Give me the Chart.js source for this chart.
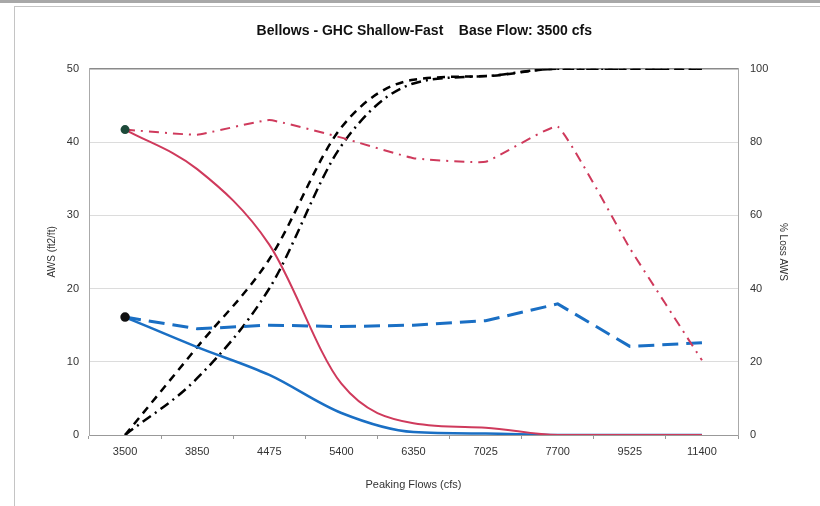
<!DOCTYPE html>
<html>
<head>
<meta charset="utf-8">
<script src="https://cdn.jsdelivr.net/npm/chart.js@4"></script>
<style>
  html, body { margin: 0; padding: 0; background: #fff; overflow: hidden; }
  #topbar { position: absolute; left: 0; top: 0; width: 820px; height: 3px; background: #a8a8a8; }
  #frame { position: absolute; left: 14px; top: 6px; width: 820px; height: 520px; border: 1px solid #c4c4c4; }
  #wrap { position: absolute; left: 0; top: 0; width: 820px; height: 506px; }
</style>
</head>
<body>
<div id="topbar"></div>
<div id="frame"></div>
<div id="wrap"><canvas id="chart" width="820" height="506"></canvas></div>
<script>
// categorias (vazões de pico)
const flows = ['3500', '3850', '4475', '5400', '6350', '7025', '7700', '9525', '11400'];

// AWS (ft2/ft) - eixo esquerdo
const awsRed = [41.7, 36.3, 26.0, 7.0, 1.6, 1.0, 0, 0, 0];
const awsBlue = [16.1, 12.0, 8.2, 3.0, 0.4, 0.2, 0, 0, 0];
const baseRed = [41.7, 41.0, 43.0, 40.6, 37.8, 37.3, 42.1, 25.5, 10.2];
const baseBlue = [16.1, 14.5, 15.0, 14.8, 15.0, 15.6, 17.9, 12.1, 12.6];

// % Loss AWS - eixo direito
const lossDash = [0, 24, 48, 84, 97, 98, 100, 100, 100];
const lossDashDot = [0, 15.5, 40, 79, 96, 98, 100, 100, 100];

const leftTicks = [0, 10, 20, 30, 40, 50];
const rightTicks = [0, 20, 40, 60, 80, 100];

const red = '#cf3a5c';
const blue = '#1a6fc4';
const font = 'Liberation Sans, Arial, sans-serif';

const firstDot = ctx => ctx.dataIndex === 0 ? 3.5 : 0;

new Chart(document.getElementById('chart'), {
  type: 'line',
  data: {
    labels: flows,
    datasets: [
      { label: 'AWS red', data: awsRed, yAxisID: 'y', borderColor: red, borderWidth: 2,
        cubicInterpolationMode: 'monotone', pointRadius: firstDot,
        pointBackgroundColor: '#1d4a3a', pointBorderColor: '#1d4a3a' },
      { label: 'AWS blue', data: awsBlue, yAxisID: 'y', borderColor: blue, borderWidth: 2.5,
        cubicInterpolationMode: 'monotone', pointRadius: firstDot,
        pointBackgroundColor: '#111', pointBorderColor: '#111' },
      { label: 'Base red', data: baseRed, yAxisID: 'y', borderColor: red, borderWidth: 2,
        borderDash: [10, 6, 2, 6], tension: 0.1, pointRadius: 0 },
      { label: 'Base blue', data: baseBlue, yAxisID: 'y', borderColor: blue, borderWidth: 3,
        borderDash: [16, 8], tension: 0, pointRadius: 0 },
      { label: 'Loss dash', data: lossDash, yAxisID: 'y1', borderColor: '#000', borderWidth: 2.5,
        borderDash: [8, 6], cubicInterpolationMode: 'monotone', pointRadius: 0 },
      { label: 'Loss dashdot', data: lossDashDot, yAxisID: 'y1', borderColor: '#000', borderWidth: 2.5,
        borderDash: [10, 5, 2, 5], cubicInterpolationMode: 'monotone', pointRadius: 0 }
    ]
  },
  options: {
    responsive: false,
    animation: false,
    layout: { padding: { left: 40, right: 27, top: 20, bottom: 10 } },
    plugins: {
      legend: { display: false },
      tooltip: { enabled: false },
      title: {
        display: true,
        text: '    Bellows - GHC Shallow-Fast    Base Flow: 3500 cfs',
        color: '#111',
        font: { family: font, size: 14, weight: 'bold' },
        padding: { top: 3, bottom: 29 }
      }
    },
    scales: {
      x: {
        offset: true,
        grid: { display: true, offset: true, drawOnChartArea: false, tickLength: 4, color: '#999' },
        border: { color: '#999' },
        ticks: { color: '#333', font: { family: font, size: 11 }, padding: 6, maxRotation: 0 },
        title: { display: true, text: 'Peaking Flows (cfs)', color: '#333',
                 font: { family: font, size: 11 }, padding: { top: 4, bottom: 4 } },
        afterFit: s => { s.height = 61; }
      },
      y: {
        position: 'left',
        min: 0, max: 50,
        afterBuildTicks: s => { s.ticks = leftTicks.map(v => ({ value: v })); },
        grid: {
          color: c => c.tick.value === 50 ? '#8a8a8a' : '#dcdcdc',
          lineWidth: c => c.tick.value === 50 ? 1.5 : 1,
          drawTicks: false
        },
        border: { color: '#aaa' },
        ticks: { color: '#333', font: { family: font, size: 11 }, padding: 10 },
        title: { display: true, text: 'AWS (ft2/ft)', color: '#333',
                 font: { family: font, size: 10 }, padding: { top: 6, bottom: 4 } },
        afterFit: s => { s.width = 49; }
      },
      y1: {
        position: 'right',
        min: 0, max: 100,
        afterBuildTicks: s => { s.ticks = rightTicks.map(v => ({ value: v })); },
        grid: { drawOnChartArea: false, drawTicks: false },
        border: { color: '#aaa' },
        ticks: { color: '#333', font: { family: font, size: 11 }, padding: 12 },
        title: { display: true, text: '% Loss AWS', color: '#333',
                 font: { family: font, size: 10 }, padding: { top: 4, bottom: 4 } },
        afterFit: s => { s.width = 55; }
      }
    }
  }
});
</script>
</body>
</html>
